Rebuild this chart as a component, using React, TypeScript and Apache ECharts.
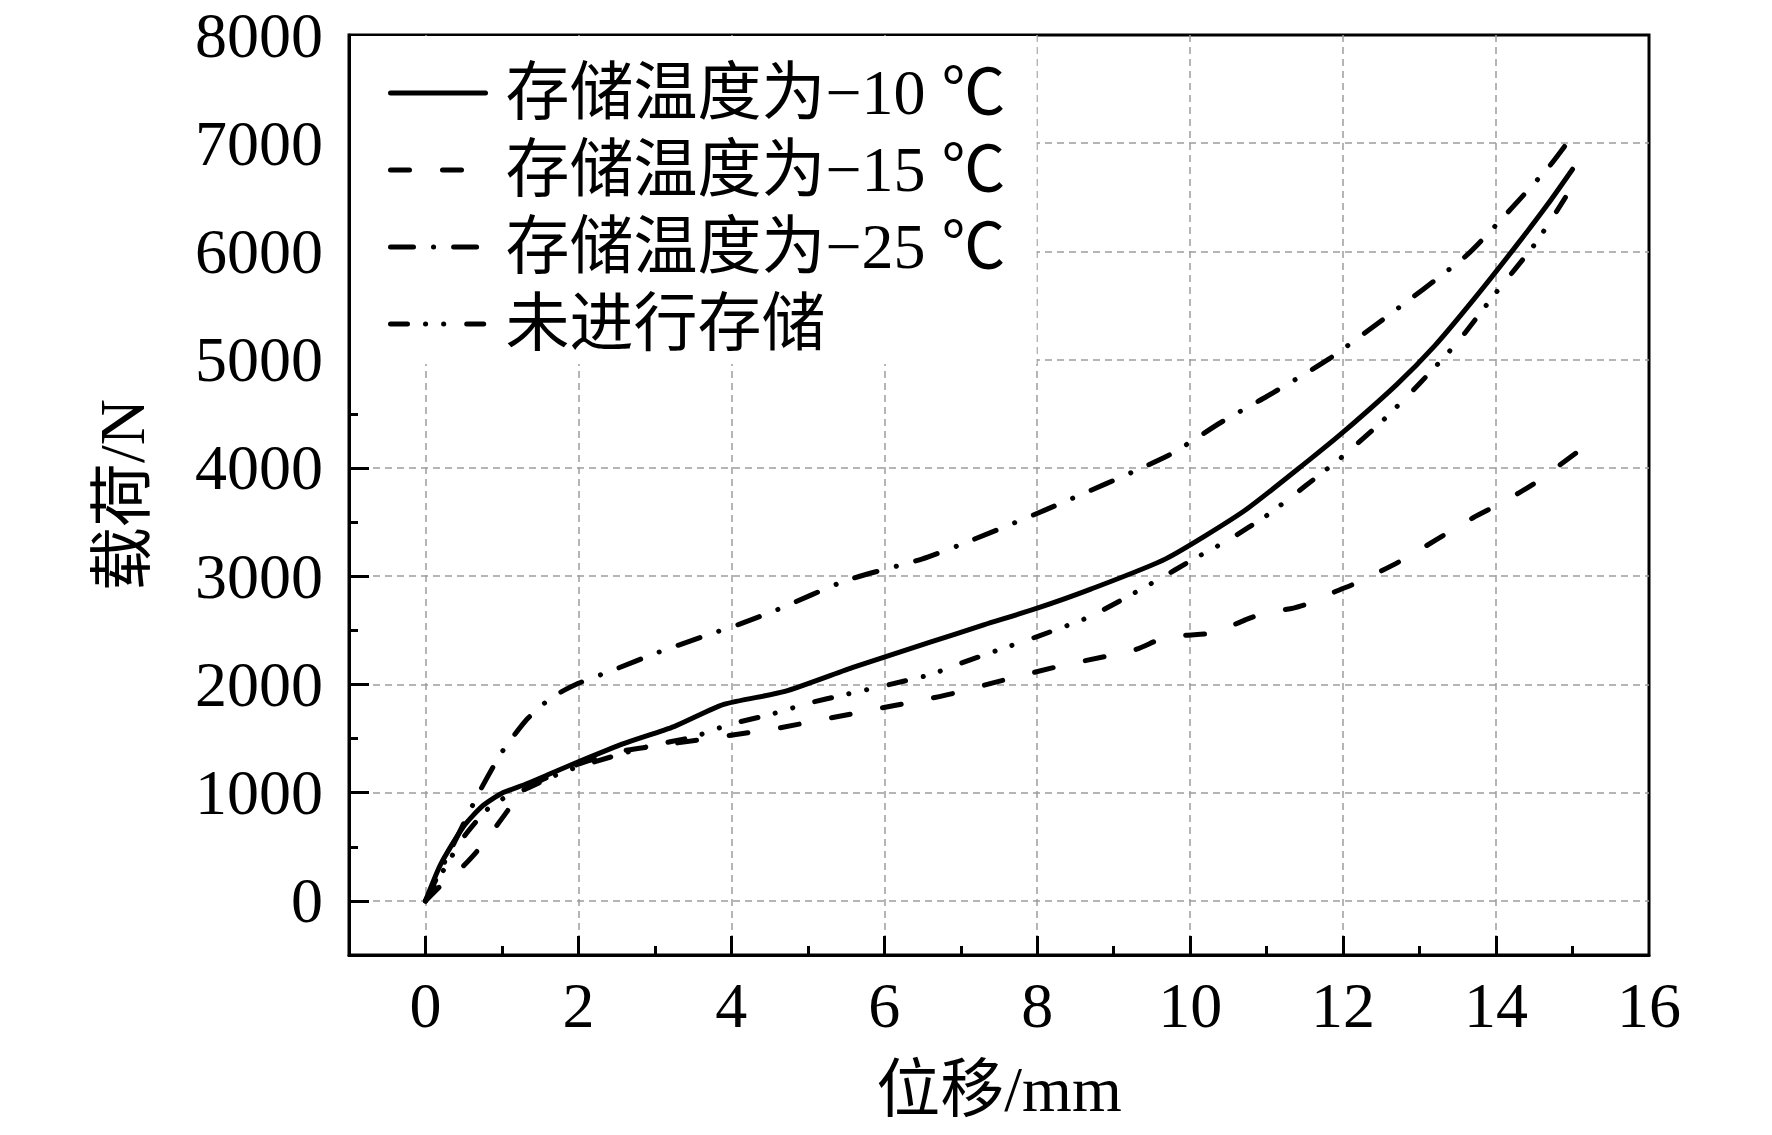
import React, { useEffect, useRef } from "react";
import * as echarts from "echarts";

// ---------- data ----------
const seriesNames = ["存储温度为−10 ℃", "存储温度为−15 ℃", "存储温度为−25 ℃", "未进行存储"];

const disp10 = [0, 0.2, 0.5, 0.75, 1.0, 1.3, 1.6, 2.0, 2.6, 3.25, 3.9, 4.7, 5.6, 6.6, 7.3, 8.0, 8.7, 9.68, 10.7, 11.55, 12.0, 12.7, 13.2, 13.7, 14.25, 14.68, 15.0];
const load10 = [0, 340, 690, 880, 995, 1075, 1165, 1285, 1455, 1610, 1815, 1935, 2160, 2390, 2550, 2704, 2880, 3160, 3600, 4070, 4330, 4770, 5130, 5550, 6040, 6440, 6760];

const disp15 = [0, 0.22, 0.45, 0.68, 1.07, 1.2, 1.5, 1.95, 2.5, 3.2, 3.9, 4.6, 5.3, 5.95, 6.6, 6.9, 7.6, 8.3, 8.9, 9.3, 9.65, 9.95, 10.3, 10.7, 10.95, 11.35, 11.6, 11.9, 12.2, 12.75, 13.7, 14.0, 14.3, 14.55, 15.05];
const load15 = [0, 155, 290, 464, 829, 990, 1110, 1250, 1375, 1450, 1520, 1595, 1690, 1780, 1870, 1917, 2047, 2170, 2260, 2325, 2430, 2455, 2475, 2590, 2655, 2705, 2760, 2858, 2945, 3140, 3540, 3650, 3770, 3880, 4140];

const disp25 = [0, 0.35, 0.7, 1.0, 1.33, 1.65, 2.0, 2.5, 3.0, 3.6, 4.1, 4.6, 5.5, 6.5, 7.1, 8.1, 9.7, 10.4, 11.0, 11.8, 12.5, 13.6, 14.1, 14.7, 15.0];
const load25 = [0, 500, 1000, 1375, 1680, 1880, 2010, 2145, 2285, 2435, 2555, 2690, 2960, 3160, 3320, 3610, 4110, 4420, 4660, 5000, 5360, 5955, 6320, 6790, 7070];

const dispNone = [0, 0.25, 0.5, 0.8, 1.05, 1.3, 1.7, 2.0, 2.9, 3.5, 4.0, 4.5, 5.0, 5.5, 6.0, 6.6, 7.0, 7.5, 8.0, 8.7, 9.6, 10.0, 10.5, 11.0, 11.5, 12.0, 12.5, 13.0, 13.5, 14.0, 14.5, 14.8, 15.02];
const loadNone = [0, 300, 590, 840, 960, 1030, 1160, 1240, 1425, 1515, 1635, 1720, 1825, 1908, 1988, 2090, 2195, 2320, 2442, 2630, 2975, 3140, 3335, 3560, 3830, 4110, 4425, 4780, 5165, 5620, 6060, 6380, 6625];

const xMajorTicks = [0, 2, 4, 6, 8, 10, 12, 14];
const xMinorTicks = [1, 3, 5, 7, 9, 11, 13, 15];
const xLabels = [0, 2, 4, 6, 8, 10, 12, 14, 16];
const yMajorTicks = [0, 1000, 2000, 3000, 4000, 5000, 6000, 7000];
const yMinorTicks = [500, 1500, 2500, 3500, 4500, 5500, 6500, 7500];
const yLabels = [0, 1000, 2000, 3000, 4000, 5000, 6000, 7000, 8000];

// ---------- styles ----------
const SERIF = '"Liberation Serif", "Times New Roman", "Noto Sans CJK SC", serif';
const GRID_COLOR = "#9d9d9d";
const LINE_W = 5;
const dashStyles: (string | number[])[] = ["solid", [19, 33], [23, 20, 0.1, 20], [17, 18, 0.1, 18, 0.1, 23]];

const zip = (xs: number[], ys: number[]) => xs.map((x, i) => [x, ys[i]]);
const seriesData = [zip(disp10, load10), zip(disp15, load15), zip(disp25, load25), zip(dispNone, loadNone)];

export default function App() {
  const ref = useRef<HTMLDivElement>(null);
  useEffect(() => {
    if (!ref.current) return;
    const chart = echarts.init(ref.current, null, { renderer: "svg" });
    const plain = (v: number) => String(v);
    const option: any = {
      animation: false,
      backgroundColor: "#ffffff",
      textStyle: { fontFamily: SERIF },
      grid: {
        left: 349,
        right: 123,
        top: 35,
        bottom: 180,
        show: true,
        borderColor: "#000",
        borderWidth: 3,
        backgroundColor: "transparent",
      },
      legend: {
        orient: "vertical",
        left: 351,
        top: 36,
        backgroundColor: "#ffffff",
        padding: [25, 31, 8, 37],
        itemWidth: 95,
        itemHeight: 20,
        itemGap: 13,
        data: seriesNames,
        lineStyle: { width: LINE_W, cap: "round" },
        itemStyle: { color: "rgba(0,0,0,0)", borderColor: "rgba(0,0,0,0)", borderWidth: 0, opacity: 0 },
        textStyle: { fontSize: 64, color: "#000", fontFamily: SERIF, padding: [0, 0, 0, 15] },
      },
      xAxis: [
        {
          type: "value",
          min: -1,
          max: 16,
          interval: 1,
          position: "bottom",
          axisLine: { show: true, onZero: false, lineStyle: { color: "#000", width: 3 } },
          axisTick: { show: true, inside: true, length: 19, customValues: xMajorTicks, lineStyle: { color: "#000", width: 3 } },
          axisLabel: {
            customValues: xLabels,
            formatter: plain,
            fontSize: 64,
            color: "#000",
            margin: 18,
            fontFamily: SERIF,
          },
          splitLine: { show: true, lineStyle: { color: GRID_COLOR, type: [7, 5], width: 1.5 } },
          name: "位移/mm",
          nameLocation: "middle",
          nameGap: 102,
          nameTextStyle: { fontSize: 64, color: "#000", fontFamily: SERIF },
        },
        {
          type: "value",
          min: -1,
          max: 16,
          interval: 1,
          position: "bottom",
          axisLine: { show: false, onZero: false },
          axisTick: { show: true, inside: true, length: 9, customValues: xMinorTicks, lineStyle: { color: "#000", width: 3 } },
          axisLabel: { show: false },
          splitLine: { show: false },
        },
      ],
      yAxis: [
        {
          type: "value",
          min: -500,
          max: 8000,
          interval: 500,
          position: "left",
          axisLine: { show: true, onZero: false, lineStyle: { color: "#000", width: 3 } },
          axisTick: { show: true, inside: true, length: 20, customValues: yMajorTicks, lineStyle: { color: "#000", width: 3 } },
          axisLabel: {
            customValues: yLabels,
            formatter: plain,
            fontSize: 64,
            color: "#000",
            margin: 26,
            fontFamily: SERIF,
          },
          splitLine: { show: true, lineStyle: { color: GRID_COLOR, type: [7, 5], width: 1.5 } },
          name: "载荷/N",
          nameLocation: "middle",
          nameGap: 195,
          nameTextStyle: { fontSize: 64, color: "#000", fontFamily: SERIF },
        },
        {
          type: "value",
          min: -500,
          max: 8000,
          interval: 500,
          position: "left",
          axisLine: { show: false, onZero: false },
          axisTick: { show: true, inside: true, length: 9, customValues: yMinorTicks, lineStyle: { color: "#000", width: 3 } },
          axisLabel: { show: false },
          splitLine: { show: false },
        },
      ],
      series: seriesNames.map((name, i) => ({
        name,
        type: "line",
        xAxisIndex: 0,
        yAxisIndex: 0,
        data: seriesData[i],
        symbol: "none",
        showSymbol: false,
        smooth: 0.2,
        lineStyle: { color: "#000", width: LINE_W, type: dashStyles[i], cap: "round", join: "round" },
        itemStyle: { color: "#000" },
        z: 3,
      })),
    };
    chart.setOption(option);
    return () => chart.dispose();
  }, []);
  return <div ref={ref} style={{ position: "absolute", left: 0, top: 0, width: 1772, height: 1135 }} />;
}
